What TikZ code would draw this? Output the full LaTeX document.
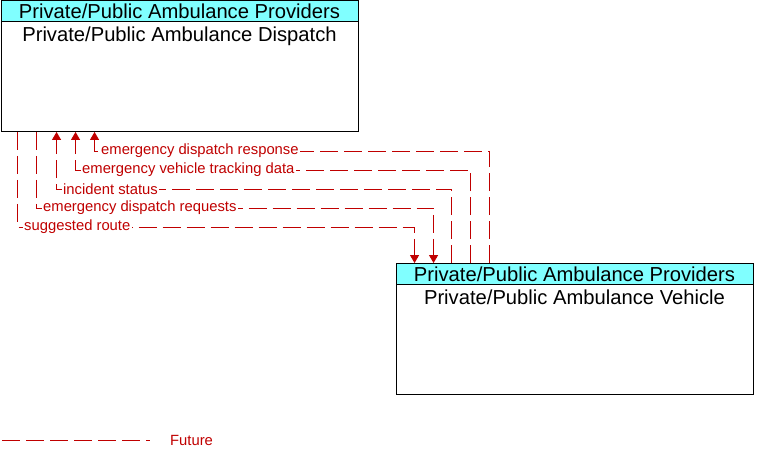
\documentclass[tikz,border=0pt]{standalone}
\usepackage{fontspec}
\setmainfont{Liberation Sans}
\usetikzlibrary{arrows.meta,positioning}
\definecolor{hdrcyan}{RGB}{128,255,255}
\definecolor{flowred}{RGB}{192,0,0}
\begin{document}
\begin{tikzpicture}[x=1pt,y=-1pt,
  sysbox/.style={draw=black, line width=0.9pt, fill=white, minimum width=357pt, minimum height=131pt, inner sep=0pt},
  hdrbox/.style={draw=black, line width=0.9pt, fill=hdrcyan, minimum width=357pt, minimum height=21pt, inner sep=0pt, font=\fontsize{20.2}{22}\selectfont},
  bodytxt/.style={inner sep=0pt, font=\fontsize{20.2}{22}\selectfont},
  future/.style={draw=flowred, line width=0.9pt, dash pattern=on 18pt off 6pt},
  lbl/.style={fill=white, text=flowred, inner sep=1.2pt, anchor=west, xshift=5pt, font=\fontsize{14.8}{16}\selectfont},
  tip/.style={-{Triangle[width=9pt,length=8pt]}}]
\useasboundingbox (0,0) rectangle (764,460);
\node[sysbox] (dispatch) at (179.5,66) {};
\node[hdrbox, anchor=north] (dispatchhdr) at (dispatch.north) {Private/Public Ambulance Providers};
\node[bodytxt, below=5pt of dispatchhdr] (dispatchtxt) {Private/Public Ambulance Dispatch};
\node[sysbox] (vehicle) at (574.5,329) {};
\node[hdrbox, anchor=north] (vehiclehdr) at (vehicle.north) {Private/Public Ambulance Providers};
\node[bodytxt, below=5pt of vehiclehdr] (vehicletxt) {Private/Public Ambulance Vehicle};
\draw[future,tip] ([xshift=17pt]dispatch.south west) -- ++(0,95) node[lbl]{suggested route} -| ([xshift=19pt]vehicle.north west);
\draw[future,tip] ([xshift=36pt]dispatch.south west) -- ++(0,76) node[lbl]{emergency dispatch requests} -| ([xshift=38pt]vehicle.north west);
\draw[future,tip] ([xshift=56pt]vehicle.north west) |- ([xshift=56pt,yshift=-57pt]dispatch.south west) node[lbl]{incident status} -- ([xshift=56pt]dispatch.south west);
\draw[future,tip] ([xshift=75pt]vehicle.north west) |- ([xshift=75pt,yshift=-38pt]dispatch.south west) node[lbl]{emergency vehicle tracking data} -- ([xshift=75pt]dispatch.south west);
\draw[future,tip] ([xshift=94pt]vehicle.north west) |- ([xshift=94pt,yshift=-19pt]dispatch.south west) node[lbl]{emergency dispatch response} -- ([xshift=94pt]dispatch.south west);
\coordinate (legstart) at (2,440);
\coordinate (legend) at (150,440);
\draw[future] (legstart) -- (legend);
\node[text=flowred, anchor=west, inner sep=0pt, font=\fontsize{14.8}{16}\selectfont, right=20pt of legend] (legtxt) {Future};
\end{tikzpicture}
\end{document}
